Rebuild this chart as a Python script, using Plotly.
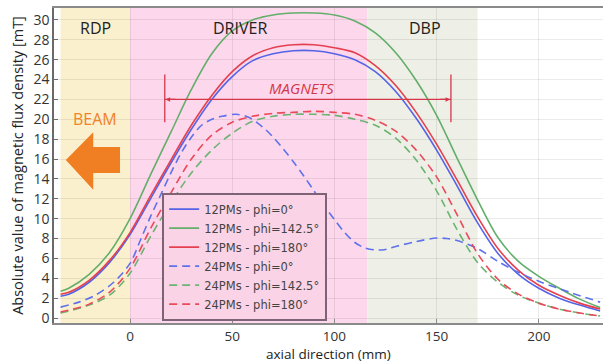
import plotly.graph_objects as go

# ---------------- data ----------------
x_grid = [-34, -30, -20, -10, 0, 10, 20, 30, 40, 50, 60, 70, 80, 90, 100, 110, 120,
          130, 140, 150, 160, 170, 180, 190, 200, 210, 220, 230]
y_12_phi0 = [2.2, 2.4, 3.6, 5.6, 8.4, 12.0, 15.6, 19.0, 22.0, 24.3, 25.9, 26.6, 26.9, 26.9,
             26.6, 26.0, 24.8, 22.8, 20.1, 16.9, 13.3, 9.6, 6.5, 4.4, 3.0, 2.0, 1.3, 0.7]
y_12_phi142 = [2.7, 3.0, 4.4, 6.6, 10.0, 14.4, 18.7, 23.0, 26.6, 28.9, 30.0, 30.5, 30.7, 30.7,
               30.5, 29.9, 28.7, 26.7, 23.9, 20.4, 16.1, 11.9, 8.1, 5.7, 4.2, 3.0, 1.9, 1.05]
y_12_phi180 = [2.4, 2.6, 3.8, 5.8, 8.6, 12.3, 15.9, 19.4, 22.4, 24.8, 26.4, 27.2, 27.5, 27.5,
               27.2, 26.7, 25.4, 23.4, 20.7, 17.5, 13.9, 10.2, 7.0, 4.8, 3.3, 2.3, 1.5, 0.9]
y_24_phi142 = [0.5, 0.7, 1.3, 2.3, 4.5, 8.2, 11.6, 14.6, 16.9, 18.6, 19.8, 20.3, 20.5, 20.5,
               20.4, 20.0, 19.4, 18.1, 15.9, 12.8, 8.9, 5.6, 3.6, 2.3, 1.5, 0.9, 0.5, 0.2]
y_24_phi180 = [0.6, 0.8, 1.4, 2.6, 5.0, 9.0, 12.6, 16.0, 18.4, 19.7, 20.3, 20.6, 20.7, 20.8,
               20.7, 20.5, 19.9, 18.8, 16.9, 14.2, 10.4, 6.5, 3.9, 2.4, 1.5, 0.9, 0.5, 0.2]

x_24_phi0 = [-34, -25, -17, -8, 0, 5, 10, 15, 20, 25, 30, 35, 40, 45, 52, 58, 65, 70, 75,
             80, 85, 90, 95, 100, 105, 110, 115, 120, 125, 130, 140, 150, 155, 160, 170,
             180, 190, 200, 215, 230]
y_24_phi0 = [1.1, 1.6, 2.3, 3.6, 5.5, 7.8, 10.2, 12.4, 14.6, 16.6, 18.2, 19.4, 20.0, 20.3,
             20.5, 20.2, 19.2, 18.2, 17.0, 15.7, 14.3, 12.8, 11.3, 9.9, 8.6, 7.6, 7.05, 6.85,
             6.9, 7.2, 7.7, 8.05, 8.0, 7.8, 7.0, 5.7, 4.6, 3.7, 2.6, 1.6]

series = [
    ("12PMs - phi=0°", x_grid, y_12_phi0, "#5563E6", "solid"),
    ("12PMs - phi=142.5°", x_grid, y_12_phi142, "#63AE6B", "solid"),
    ("12PMs - phi=180°", x_grid, y_12_phi180, "#E5404F", "solid"),
    ("24PMs - phi=0°", x_24_phi0, y_24_phi0, "#5F72EC", "8px,5px"),
    ("24PMs - phi=142.5°", x_grid, y_24_phi142, "#6CB472", "8px,5px"),
    ("24PMs - phi=180°", x_grid, y_24_phi180, "#EA4A5A", "8px,5px"),
]

regions = [("RDP", -34, 0, "#FBF0CD"), ("DRIVER", 0, 116, "#FDD7EB"), ("DBP", 116, 170, "#EEF0E7")]
region_label_x = [-17, 54, 144.5]
magnets_range = [17, 157]

# ---------------- figure ----------------
fig = go.Figure()
for name, xs, ys, col, dash in series:
    fig.add_trace(go.Scatter(x=xs, y=ys, mode="lines", name=name,
                             line=dict(color=col, width=1.6, dash=dash, shape="spline",
                                       smoothing=0.9)))

shapes = []
annotations = []
for (lab, x0, x1, col), lx in zip(regions, region_label_x):
    shapes.append(dict(type="rect", xref="x", yref="paper", x0=x0, x1=x1, y0=0, y1=1,
                       fillcolor=col, line=dict(width=0), layer="below"))
    annotations.append(dict(x=lx, y=29.2, xref="x", yref="y", text=lab, showarrow=False,
                            font=dict(family="Open Sans", size=16, color="#222222")))

mc = "#D5374A"
m0, m1 = magnets_range
shapes += [
    dict(type="line", x0=m0, x1=m1, y0=22, y1=22, line=dict(color=mc, width=1.3)),
    dict(type="line", x0=m0, x1=m0, y0=19.7, y1=24.5, line=dict(color=mc, width=1.3)),
    dict(type="line", x0=m1, x1=m1, y0=19.7, y1=24.5, line=dict(color=mc, width=1.3)),
]
for tip, tail in [(m0 + 0.4, m0 + 6), (m1 - 0.4, m1 - 6)]:
    annotations.append(dict(x=tip, y=22, ax=tail, ay=22, xref="x", yref="y", axref="x",
                            ayref="y", text="", showarrow=True, arrowhead=2, arrowsize=0.7,
                            arrowwidth=1.3, arrowcolor=mc))
annotations.append(dict(x=84, y=23.2, text="<i>MAGNETS</i>", showarrow=False,
                        font=dict(family="Open Sans", size=15, color=mc)))

# beam arrow
shapes.append(dict(type="path", xref="x", yref="y",
                   path="M -31.4 15.9 L -18 18.7 L -18 17.2 L -4.9 17.2 L -4.9 14.6 "
                        "L -18 14.6 L -18 12.9 Z",
                   fillcolor="#F07E22", line=dict(width=0), layer="above"))
annotations.append(dict(x=-17, y=20.0, text="BEAM", showarrow=False,
                        font=dict(family="Open Sans", size=16, color="#F0822A")))

# x-axis title (paper text just below the tick labels)
annotations.append(dict(x=0.5, y=-0.098, xref="paper", yref="paper", xanchor="center",
                        yanchor="middle", text="axial direction (mm)", showarrow=False,
                        font=dict(family="Open Sans", size=13.5, color="#222222")))

fig.update_layout(
    width=603, height=363,
    margin=dict(l=54, r=0, t=8, b=40),
    paper_bgcolor="white", plot_bgcolor="white",
    shapes=shapes, annotations=annotations,
    font=dict(family="Open Sans", color="#333333"),
    legend=dict(x=0.197, y=0.414, xanchor="left", yanchor="top",
                bgcolor="#FBD3E6", bordercolor="#7E6275", borderwidth=2,
                font=dict(family="DejaVu Sans", size=11.5, color="#444444"),
                tracegroupgap=0, itemwidth=30),
    showlegend=True,
)
fig.update_xaxes(range=[-37.2, 231.4], tickvals=[0, 50, 100, 150, 200],
                 showgrid=True, gridcolor="rgba(0,0,0,0.08)", gridwidth=1,
                 showline=True, linecolor="#8A8A8A", linewidth=1.5, mirror=True,
                 ticks="inside", ticklen=4, tickcolor="#8A8A8A", automargin=False,
                 tickfont=dict(size=13.5, color="#333333"), zeroline=False)
fig.update_yaxes(range=[-0.5, 31.2], tickvals=list(range(0, 31, 2)),
                 showgrid=True, gridcolor="rgba(0,0,0,0.08)", gridwidth=1,
                 showline=True, linecolor="#6A6A6A", linewidth=1.5, mirror=True,
                 ticks="inside", ticklen=4, tickcolor="#6A6A6A", automargin=False,
                 tickfont=dict(size=14, color="#333333"), zeroline=False,
                 title=dict(text="Absolute value of magnetic flux density [mT]", standoff=6,
                            font=dict(size=14.5, color="#222222")))

fig.write_html("out.html")
